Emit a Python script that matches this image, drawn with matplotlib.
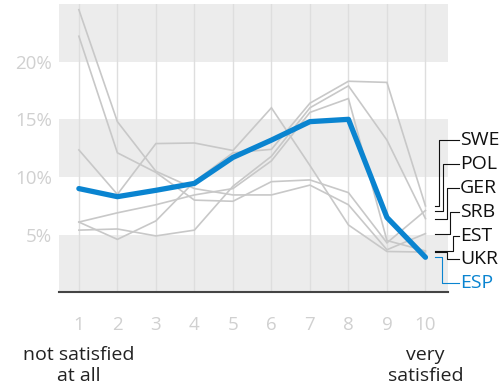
import numpy as np
import matplotlib.pyplot as plt

plt.rcParams['font.family'] = ['Open Sans', 'DejaVu Sans']

# satisfaction scale 1..10, share of respondents in %
scale = list(range(1, 11))

countries = ['SWE', 'POL', 'GER', 'SRB', 'EST', 'UKR']
swe = [6.1, 4.6, 6.2, 9.6, 12.1, 12.4, 16.4, 18.3, 18.2, 7.5]
pol = [22.2, 12.1, 10.4, 8.0, 7.9, 9.6, 9.75, 8.65, 4.3, 7.1]
ger = [5.4, 5.5, 4.9, 5.4, 9.2, 11.8, 16.0, 17.9, 13.2, 6.4]
srb = [24.5, 14.8, 10.5, 9.0, 8.45, 8.45, 9.3, 7.6, 3.7, 5.1]
est = [6.1, 6.9, 7.6, 8.45, 9.0, 11.4, 15.6, 16.8, 4.5, 3.6]
ukr = [12.35, 8.5, 12.9, 12.95, 12.3, 16.0, 11.0, 5.85, 3.55, 3.5]
esp = [9.0, 8.3, 8.85, 9.45, 11.7, 13.2, 14.8, 15.0, 6.5, 3.05]

gray_series = [swe, pol, ger, srb, est, ukr]
yticks = [5, 10, 15, 20]

blue = '#0a84d0'
gray = '#c8c8c8'

fig = plt.figure(figsize=(5.02, 3.91), dpi=100)
ax = fig.add_axes([0.118, 0.252, 0.774, 0.738])

for lo in (0, 10, 20):
    ax.axhspan(lo, lo + 5, color='#ececec', lw=0, zorder=0)
for x in scale:
    ax.axvline(x, color='#dedede', lw=1, zorder=1)

for s in gray_series:
    ax.plot(scale, s, color=gray, lw=1.2, zorder=2, solid_joinstyle='miter')
ax.plot(scale, esp, color=blue, lw=3.8, zorder=3, solid_capstyle='round')

ax.set_xlim(0.49, 10.58)
ax.set_ylim(0, 25)
ax.set_xticks(scale)
ax.set_yticks(yticks)
ax.set_yticklabels([f'{v}%' for v in yticks])
ax.tick_params(length=0, labelsize=13.5, labelcolor='#d0d0d0')
ax.tick_params(axis='x', pad=17)
ax.tick_params(axis='y', pad=5)
for side in ('top', 'right', 'left'):
    ax.spines[side].set_visible(False)
ax.spines['bottom'].set_color('#444444')
ax.spines['bottom'].set_linewidth(1.5)
ax.spines['bottom'].set_zorder(4)

# end labels with elbow leader lines
labels = countries + ['ESP']
ends = [s[-1] for s in gray_series] + [esp[-1]]
label_y = np.linspace(13.2, 0.8, len(labels))
elbow_x = [10.35, 10.46, 10.55, 10.65, 10.72, 10.55, 10.42]
for name, yv, ly, ex in zip(labels, ends, label_y, elbow_x):
    c = blue if name == 'ESP' else '#111111'
    ax.plot([10.25, ex, ex, 10.86], [yv, yv, ly, ly], color=c, lw=0.8,
            clip_on=False, zorder=5)
    ax.text(10.9, ly, name, color=c, fontsize=14, va='center', ha='left',
            clip_on=False)

ax.text(1, -6.3, 'not satisfied\nat all', ha='center', va='center', fontsize=14,
        color='#222222', linespacing=1.2)
ax.text(10, -6.3, 'very\nsatisfied', ha='center', va='center', fontsize=14,
        color='#222222', linespacing=1.2)

fig.savefig('out.png', dpi=100)
